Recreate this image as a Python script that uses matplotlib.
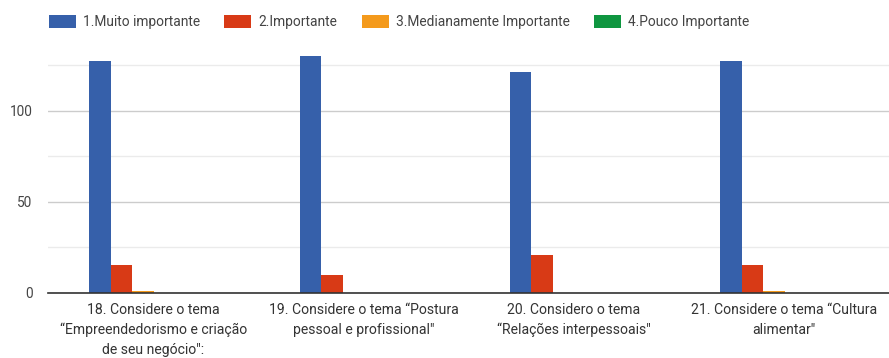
import matplotlib
matplotlib.use("Agg")
import matplotlib.pyplot as plt
from matplotlib.patches import Patch
import numpy as np

plt.rcParams['font.family'] = ['Roboto', 'DejaVu Sans']

categories = [
    "18. Considere o tema\n\u201cEmpreendedorismo e criação\nde seu negócio\":",
    "19. Considere o tema \u201cPostura\npessoal e profissional\"",
    "20. Considero o tema\n\u201cRelações interpessoais\"",
    "21. Considere o tema \u201cCultura\nalimentar\"",
]
series_names = ["1.Muito importante", "2.Importante",
                "3.Medianamente Importante", "4.Pouco Importante"]
muito_importante = [127, 131, 121, 127]
importante = [15, 10, 21, 15]
medianamente = [1, 0, 0, 1]
pouco = [0, 0, 0, 0]
yticks = [0, 50, 100]

colors = ["#3660aa", "#d83a16", "#f49a1c", "#0f9640"]
series = [muito_importante, importante, medianamente, pouco]

fig = plt.figure(figsize=(8.89, 3.58), dpi=100)
ax = fig.add_axes([0.054, 0.182, 0.946, 0.662])

x = np.arange(len(categories))
width = 0.102
offsets = [-0.252, -0.150, -0.048, 0.054]
for vals, off, c in zip(series, offsets, colors):
    ax.bar(x + off, vals, width=width, color=c, edgecolor="none", zorder=3)

ax.set_xlim(-0.5, len(categories) - 0.5)
ax.set_ylim(0, 130)
ax.set_yticks(yticks)
ax.set_yticks([25, 75, 125], minor=True)
ax.grid(axis='y', which='major', color='#cccccc', linewidth=1, zorder=0)
ax.grid(axis='y', which='minor', color='#ebebeb', linewidth=1, zorder=0)
ax.set_axisbelow(True)
for s in ['top', 'right', 'left']:
    ax.spines[s].set_visible(False)
ax.spines['bottom'].set_color('#333333')
ax.spines['bottom'].set_linewidth(1.2)
ax.spines['bottom'].set_zorder(4)
ax.tick_params(axis='y', which='both', length=0, labelsize=9.8,
               labelcolor='#444444', pad=11)
ax.tick_params(axis='x', length=0, labelsize=10.1, labelcolor='#333333', pad=7)
ax.set_xticks(x)
ax.set_xticklabels(categories, linespacing=1.55)

handles = [Patch(facecolor=c, edgecolor='none') for c in colors]
fig.legend(handles, series_names, loc='upper left', bbox_to_anchor=(0.055, 0.958),
           ncol=4, frameon=False, fontsize=9.9, handlelength=1.95,
           handleheight=1.08, handletextpad=0.55, columnspacing=1.75,
           labelcolor='#444444', borderaxespad=0, borderpad=0)

fig.savefig("out.png", dpi=100, facecolor='white')
